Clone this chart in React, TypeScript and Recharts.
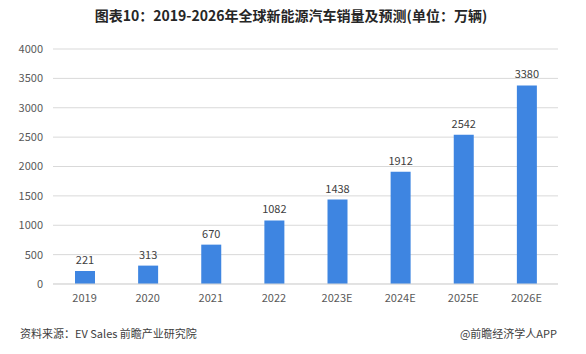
import { Bar, BarChart, CartesianGrid, LabelList, XAxis, YAxis } from "recharts";

// 全球新能源汽车销量（万辆），2023 起为预测值
const years = ["2019", "2020", "2021", "2022", "2023E", "2024E", "2025E", "2026E"];
const sales = [221, 313, 670, 1082, 1438, 1912, 2542, 3380];
const yTicks = [0, 500, 1000, 1500, 2000, 2500, 3000, 3500, 4000];

const data = years.map((year, i) => ({ year, sales: sales[i] }));

const font = "'Noto Sans CJK SC', 'Noto Sans', sans-serif";

export default function App() {
  return (
    <div
      style={{
        position: "absolute",
        left: 0,
        top: 0,
        width: 586,
        height: 354,
        background: "#fff",
        fontFamily: font,
      }}
    >
      <div
        style={{
          position: "absolute",
          top: 5,
          left: 0,
          width: 582,
          textAlign: "center",
          fontSize: 14,
          fontWeight: 700,
          color: "#262626",
          lineHeight: "20px",
        }}
      >
        图表10：2019-2026年全球新能源汽车销量及预测(单位：万辆)
      </div>
      <div style={{ position: "absolute", left: 0, top: 0 }}>
        <BarChart
          width={586}
          height={354}
          data={data}
          margin={{ top: 49, right: 28, bottom: 40, left: 0 }}
        >
          <CartesianGrid vertical={false} stroke="#d9d9d9" />
          <XAxis
            dataKey="year"
            axisLine={{ stroke: "#d9d9d9" }}
            tickLine={false}
            tickMargin={4}
            height={30}
            tick={{ fontSize: 11, fill: "#595959", fontFamily: font }}
          />
          <YAxis
            domain={[0, 4000]}
            ticks={yTicks}
            axisLine={false}
            tickLine={false}
            tickMargin={4}
            width={53}
            tick={{ fontSize: 11, fill: "#595959", fontFamily: font }}
          />
          <Bar dataKey="sales" fill="#3e85e1" barSize={20} isAnimationActive={false}>
            <LabelList
              dataKey="sales"
              position="top"
              offset={7}
              style={{ fontSize: 11, fill: "#404040", fontFamily: font }}
            />
          </Bar>
        </BarChart>
      </div>
      <div
        style={{
          position: "absolute",
          left: 20,
          top: 325,
          fontSize: 11,
          color: "#404040",
          lineHeight: "16px",
        }}
      >
        资料来源：EV Sales 前瞻产业研究院
      </div>
      <div
        style={{
          position: "absolute",
          right: 29,
          top: 325,
          fontSize: 11,
          color: "#404040",
          lineHeight: "16px",
        }}
      >
        @前瞻经济学人APP
      </div>
    </div>
  );
}
